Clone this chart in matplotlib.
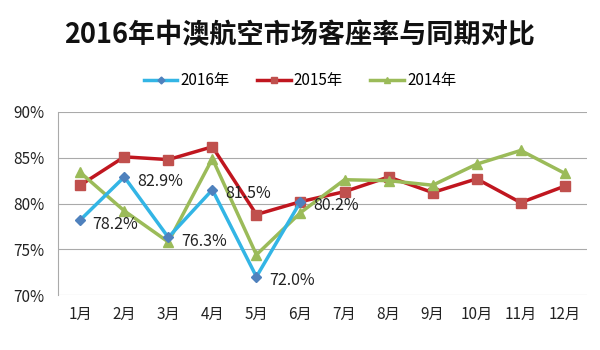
import matplotlib.pyplot as plt

plt.rcParams['font.family'] = ['Noto Sans CJK SC', 'DejaVu Sans']

months = ['1月', '2月', '3月', '4月', '5月', '6月', '7月', '8月', '9月', '10月', '11月', '12月']
rate_2016 = [78.2, 82.9, 76.3, 81.5, 72.0, 80.2]
rate_2015 = [82.0, 85.1, 84.8, 86.2, 78.8, 80.2, 81.3, 82.9, 81.2, 82.7, 80.1, 81.9]
rate_2014 = [83.4, 79.2, 75.8, 84.9, 74.4, 79.0, 82.6, 82.5, 82.0, 84.3, 85.8, 83.3]

fig = plt.figure(figsize=(6, 3.5), dpi=100)
ax = fig.add_axes([0.097, 0.157, 0.881, 0.523])

x = list(range(len(months)))

ax.plot(x[:len(rate_2016)], rate_2016, color='#33B5E5', lw=2.5,
        marker='D', ms=5, mfc='#4F81BD', mec='#4F81BD', label='2016年', zorder=5)
ax.plot(x, rate_2015, color='#C0161F', lw=2.5,
        marker='s', ms=7, mfc='#C0504D', mec='#C0504D', label='2015年', zorder=3)
ax.plot(x, rate_2014, color='#9BBB59', lw=2.5,
        marker='^', ms=7, mfc='#9BBB59', mec='#9BBB59', label='2014年', zorder=4)

for i, v in enumerate(rate_2016):
    ax.annotate(f'{v:.1f}%', (i, v), xytext=(9, -3), textcoords='offset points',
                fontsize=11.5, va='center', ha='left', color='#222222', zorder=6)

ax.set_xlim(-0.5, len(months) - 0.5)
ax.set_ylim(70, 90)
ax.set_yticks([70, 75, 80, 85, 90])
ax.set_yticklabels(['70%', '75%', '80%', '85%', '90%'])
ax.set_xticks(x)
ax.set_xticklabels(months)
ax.tick_params(length=0, labelsize=11, colors='#222222')
ax.tick_params(axis='y', pad=10)
ax.tick_params(axis='x', pad=8)
ax.grid(axis='y', color='#AAAAAA', lw=0.8)
ax.set_axisbelow(True)
for s in ['top', 'right', 'bottom']:
    ax.spines[s].set_visible(False)
ax.spines['left'].set_color('#AAAAAA')

fig.text(0.5, 0.9, '2016年中澳航空市场客座率与同期对比', ha='center', va='center',
         fontsize=19.5, fontweight='bold', color='#111111')
fig.legend(loc='center', bbox_to_anchor=(0.5, 0.77), ncol=3, frameon=False,
           fontsize=11, handlelength=2.2, columnspacing=1.8, handletextpad=0.2,
           markerscale=0.7)

fig.savefig('out.png', dpi=100)
